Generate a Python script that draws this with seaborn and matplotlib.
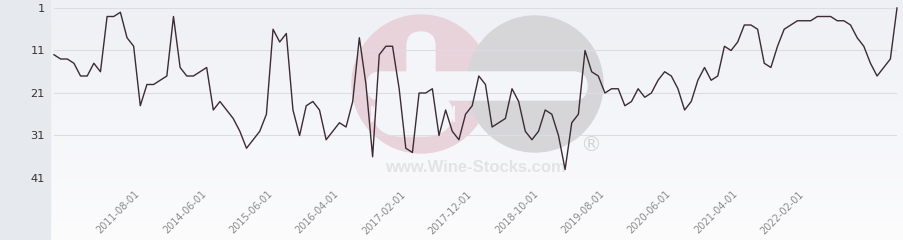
import numpy as np
import pandas as pd
import matplotlib
matplotlib.use("Agg")
import matplotlib.pyplot as plt
import seaborn as sns
from matplotlib.patches import Circle, FancyBboxPatch, Rectangle

# ---- data (rank over time) ----
ranks = [12, 13, 13, 14, 17, 17, 14, 16, 3, 3, 2, 8, 10, 24, 19, 19, 18, 17, 3, 15, 17, 17,
         16, 15, 25, 23, 25, 27, 30, 34, 32, 30, 26, 6, 9, 7, 25, 31, 24, 23, 25, 32, 30,
         28, 29, 23, 8, 19, 36, 12, 10, 10, 20, 34, 35, 21, 21, 20, 31, 25, 30, 32, 26, 24,
         17, 19, 29, 28, 27, 20, 23, 30, 32, 30, 25, 26, 31, 39, 28, 26, 11, 16, 17, 21, 20,
         20, 24, 23, 20, 22, 21, 18, 16, 17, 20, 25, 23, 18, 15, 18, 17, 10, 11, 9, 5, 5,
         6, 14, 15, 10, 6, 5, 4, 4, 4, 3, 3, 3, 4, 4, 5, 8, 10, 14, 17, 15, 13, 1]
tick_labels = ["2011-08-01", "2014-06-01", "2015-06-01", "2016-04-01", "2017-02-01",
               "2017-12-01", "2018-10-01", "2019-08-01", "2020-06-01", "2021-04-01",
               "2022-02-01"]
tick_index = [13, 23, 33, 43, 53, 63, 73, 83, 93, 103, 113]
y_ticks = [1, 11, 21, 31, 41]

df = pd.DataFrame({"idx": np.arange(len(ranks)), "rank": ranks})

W, H = 904, 240
fig = plt.figure(figsize=(W / 100, H / 100), dpi=100)

# ---- background layer (pixel coordinates) ----
bg = fig.add_axes([0, 0, 1, 1])
bg.axis("off")
top = np.array([238, 240, 245]) / 255
bot = np.array([252, 252, 253]) / 255
t = np.linspace(0, 1, 240)[:, None, None]
img = top * (1 - t) + bot * t
img = np.repeat(img, 2, axis=1)
bg.imshow(img, extent=[50, W, H, 0], aspect="auto", origin="upper", zorder=0)
bg.add_patch(Rectangle((0, 0), 50, H, color="#e6e9ed", zorder=1))

# watermark
wm_white = "#f4f5f8"
bg.add_patch(Circle((421, 84), 69, color="#e9d3da", zorder=2))
bg.add_patch(FancyBboxPatch((372, 92), 82, 44, boxstyle="round,pad=0,rounding_size=30",
                            color=wm_white, zorder=3))
bg.add_patch(Circle((535, 84), 68, color="#d6d6d9", zorder=4))
bg.add_patch(FancyBboxPatch((407, 32), 28, 60, boxstyle="round,pad=0,rounding_size=14",
                            color=wm_white, zorder=5))
bg.add_patch(FancyBboxPatch((367, 72), 220, 28, boxstyle="round,pad=0,rounding_size=14",
                            color=wm_white, zorder=5))
bg.text(475, 167, "www.Wine-Stocks.com", ha="center", va="center", fontsize=12,
        fontweight="bold", family="Liberation Sans", color="#e3e3e6", zorder=6)
bg.text(591, 145, "®", ha="center", va="center", fontsize=15,
        family="DejaVu Sans", color="#d4d4d6", zorder=6)
bg.set_xlim(0, W)
bg.set_ylim(H, 0)

# ---- main chart ----
ax = fig.add_axes([54 / W, 62 / H, 843 / W, 170 / H])
ax.patch.set_alpha(0)
sns.lineplot(data=df, x="idx", y="rank", ax=ax, color="#3d2a33", linewidth=1.0,
             clip_on=False)
ax.set_xlim(0, len(ranks) - 1)
ax.set_ylim(41, 1)
ax.set_yticks(y_ticks)
ax.set_yticklabels([str(v) for v in y_ticks])
ax.grid(axis="y", color="#dcdde3", linewidth=0.75)
ax.grid(axis="x", visible=False)
ax.set_axisbelow(True)
for s in ax.spines.values():
    s.set_visible(False)
ax.set_xlabel("")
ax.set_ylabel("")
ax.set_xticks(tick_index)
ax.set_xticklabels(tick_labels, rotation=45, ha="right", va="baseline",
                   rotation_mode="anchor", color="#8a8a8a", fontsize=7)
ax.tick_params(axis="x", length=0, pad=12)
ax.tick_params(axis="y", length=0, pad=6.5, labelsize=8.2, labelcolor="#333333")

fig.savefig("out.png", dpi=100)
